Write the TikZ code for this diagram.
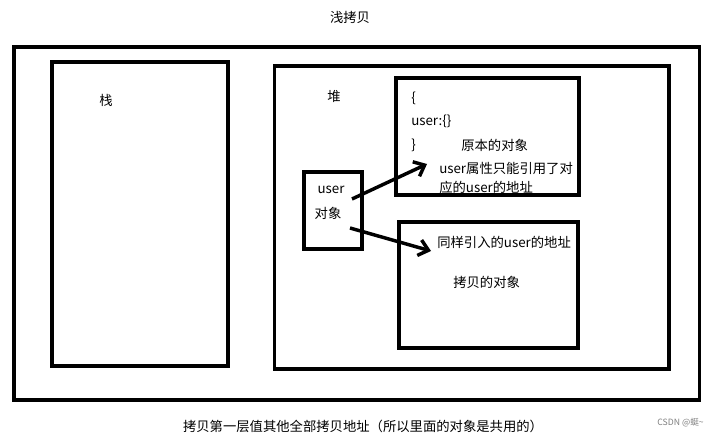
\documentclass[tikz,border=0pt]{standalone}
\usepackage{fontspec}
\setmainfont{Noto Sans CJK SC}
\usetikzlibrary{fit,arrows.meta}
\begin{document}
\begin{tikzpicture}[x=0.75pt,y=-0.75pt,
  box/.style={draw,line width=2.8pt,inner sep=0pt},
  txt/.style={font=\fontsize{10pt}{12pt}\selectfont,inner sep=0pt,anchor=west},
  arr/.style={line width=2.6pt,-{Straight Barb[length=7pt,width=12pt]}}]
\useasboundingbox (0,0) rectangle (709,438);
\fill[white] (0,0) rectangle (709,438);
% boxes
\node[box,fit={(14,47) (699.5,400)}] (outer) {};
\node[box,fit={(52,62) (228,366)}] (stack) {};
\node[box,fit={(274.5,66) (669,369)}] (heap) {};
\node[box,fit={(396,78) (579,195)}] (orig) {};
\node[box,fit={(399,222) (578,348)}] (copy) {};
\node[box,fit={(304,172) (362,249)}] (user) {};
% texts
\node[txt,anchor=center] (title) at (350,17) {浅拷贝};
\node[txt,anchor=center] (zhan) at (106,100) {栈};
\node[txt,anchor=center] (dui) at (334,96) {堆};
\node[txt] (t1) at (411,98) {\{};
\node[txt] (t2) at (411,121) {user:\{\}};
\node[txt] (t3) at (411,145) {\}};
\node[txt] (t4) at (461,145) {原本的对象};
\node[txt] (t5) at (439,168) {user属性只能引用了对};
\node[txt] (t6) at (439,187) {应的user的地址};
\node[txt,anchor=center] (u1) at (331,190) {user};
\node[txt,anchor=center] (u2) at (328,213) {对象};
\node[txt] (c1) at (437,242) {同样引入的user的地址};
\node[txt] (c2) at (453,282) {拷贝的对象};
\node[txt,anchor=center] (bottom) at (363,426) {拷贝第一层值其他全部拷贝地址（所以里面的对象是共用的）};
\node[txt,anchor=east,font=\fontsize{6.5pt}{8pt}\selectfont,text=gray] (wm) at (704,423) {CSDN @蜓\textasciitilde};
% arrows
\coordinate (a1s) at (352,199);
\coordinate (a1e) at (427,164);
\coordinate (a2s) at (350,228);
\coordinate (a2e) at (431,251);
\draw[arr] (a1s) -- (a1e);
\draw[arr] (a2s) -- (a2e);
\end{tikzpicture}
\end{document}
